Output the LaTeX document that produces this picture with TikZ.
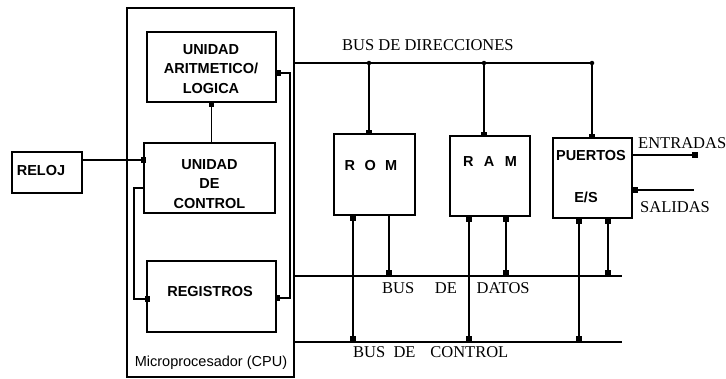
\documentclass[tikz,border=0pt]{standalone}
\usepackage{fontspec}
\setmainfont{Liberation Serif}
\setsansfont{Liberation Sans}
\begin{document}
\begin{tikzpicture}[x=1pt,y=-1pt,
  box/.style={draw, line width=1.2pt, inner sep=0pt},
  lbl/.style={font=\sffamily\bfseries\fontsize{14.5}{19.5}\selectfont, align=center, inner sep=0pt},
  serif/.style={font=\fontsize{16.5}{18}\selectfont, inner sep=0pt, anchor=west},
  bus/.style={line width=1.2pt},
  med/.style={line width=1.8pt},
  thk/.style={line width=2.8pt},
  sq/.style={fill=black, draw=none, inner sep=0pt, minimum size=5.5pt},
  dot/.style={circle, fill=black, draw=none, inner sep=0pt, minimum size=4.5pt}]
\useasboundingbox (0,0) rectangle (726,378);

% boxes
\node[box, minimum width=167pt, minimum height=369pt] (cpu) at (210.5,192.5) {};
\node[box, minimum width=129pt, minimum height=70pt] (alu) at (211.5,67) {};
\node[box, minimum width=131pt, minimum height=70pt] (uc) at (209.5,178) {};
\node[box, minimum width=129pt, minimum height=71pt] (regs) at (211.5,296.5) {};
\node[box, minimum width=70pt, minimum height=41pt] (reloj) at (47,172.5) {};
\node[box, minimum width=81pt, minimum height=81pt] (rom) at (374.5,174.5) {};
\node[box, minimum width=80pt, minimum height=80pt] (ram) at (490,176) {};
\node[box, minimum width=79pt, minimum height=80pt] (pu) at (592.5,178) {};

% box texts
\node[lbl] (alut) at (211,69) {UNIDAD\\ARITMETICO/\\LOGICA};
\node[lbl] (uct) at (209.5,184) {UNIDAD\\DE\\CONTROL};
\node[lbl] (regt) at (210,292) {REGISTROS};
\node[lbl] (relt) at (41,171) {RELOJ};
\node[lbl] (romt) at (371,166) {R\hspace{0.65em}O\hspace{0.65em}M};
\node[lbl] (ramt) at (490,162) {R\hspace{0.72em}A\hspace{0.72em}M};
\node[lbl] (put) at (591,156) {PUERTOS};
\node[lbl] (est) at (586,197) {E/S};
\node[font=\sffamily\fontsize{14.5}{16}\selectfont, inner sep=0pt] (cpul) at (211,363) {Microprocesador (CPU)};

% serif labels
\node[serif] (bdir) at (342,45) {BUS DE DIRECCIONES};
\node[serif] (bdat) at (382,288) {BUS\hspace{1.25em}DE\hspace{1.2em}DATOS};
\node[serif] (bctl) at (353,352) {BUS\hspace{0.5em}DE\hspace{0.9em}CONTROL};
\node[serif] (ent) at (638,143) {ENTRADAS};
\node[serif] (sal) at (640,207) {SALIDAS};

% bus coordinates
\coordinate (ab0) at (294,63);
\coordinate (abrom) at (369,63);
\coordinate (abram) at (484,63);
\coordinate (abpu) at (592,63);
\coordinate (db0) at (294,276);
\coordinate (db1) at (622,276);
\coordinate (cb0) at (294,342);
\coordinate (cb1) at (622,342);

% buses
\draw[bus] (ab0) -- (abpu);
\draw[bus] (db0) -- (db1);
\draw[bus] (cb0) -- (cb1);

% address drops
\foreach \c/\b in {abrom/rom, abram/ram, abpu/pu}{
  \node[dot] at (\c) {};
  \draw[bus] (\c) -- (\c |- \b.north);
  \node[sq] at ([yshift=1pt]\c |- \b.north) {};
}

% data/control drops
\coordinate (rc) at (353,342);
\coordinate (rd) at (389,276);
\coordinate (mc) at (469,342);
\coordinate (md) at (506,276);
\coordinate (pc) at (579,342);
\coordinate (pd) at (608,276);
\draw[thk] (rc |- rom.south) -- (rc);
\node[sq] (s1) at ([yshift=-3pt]rc |- rom.south) {};
\node[sq] (s2) at ([yshift=3pt]rc) {};
\draw[thk] (rd |- rom.south) -- (rd);
\node[sq] (s3) at ([yshift=3pt]rd) {};
\foreach \c/\b in {mc/ram, md/ram, pc/pu, pd/pu}{
  \draw[thk] (\c |- \b.south) -- (\c);
  \node[sq] at ([yshift=-3pt]\c |- \b.south) {};
  \node[sq] at ([yshift=3pt]\c) {};
}

% CPU internal links
\draw[thk] ([yshift=12.5pt]reloj.east) -- ([yshift=12.5pt]reloj.east -| uc.west);
\node[sq] (s4) at ([yshift=12.5pt]reloj.east -| uc.west) {};
\draw[bus] (alu.south) -- (alu.south |- uc.north);
\node[sq] (s5) at ([yshift=-2pt]alu.south) {};
\coordinate (lk) at (134,299);
\draw[bus] ([yshift=-10pt]uc.west) -| (lk) -- (lk -| regs.west);
\node[sq] (s6) at ([xshift=1pt]lk -| regs.west) {};
\coordinate (rk2) at (290,298);
\draw[bus] ([yshift=-6pt]alu.east) -| (rk2) -- (rk2 -| regs.east);
\node[sq] (s7) at ([xshift=2pt,yshift=-6pt]alu.east) {};
\node[sq] (s8) at ([xshift=1pt]rk2 -| regs.east) {};

% E/S lines
\coordinate (en) at (695,155);
\coordinate (sa) at (694,190);
\draw[med] (en -| pu.east) -- (en);
\node[sq] (s9) at (en) {};
\draw[med] (sa -| pu.east) -- (sa);
\node[sq] (s10) at ([xshift=3pt]sa -| pu.east) {};
\end{tikzpicture}
\end{document}
